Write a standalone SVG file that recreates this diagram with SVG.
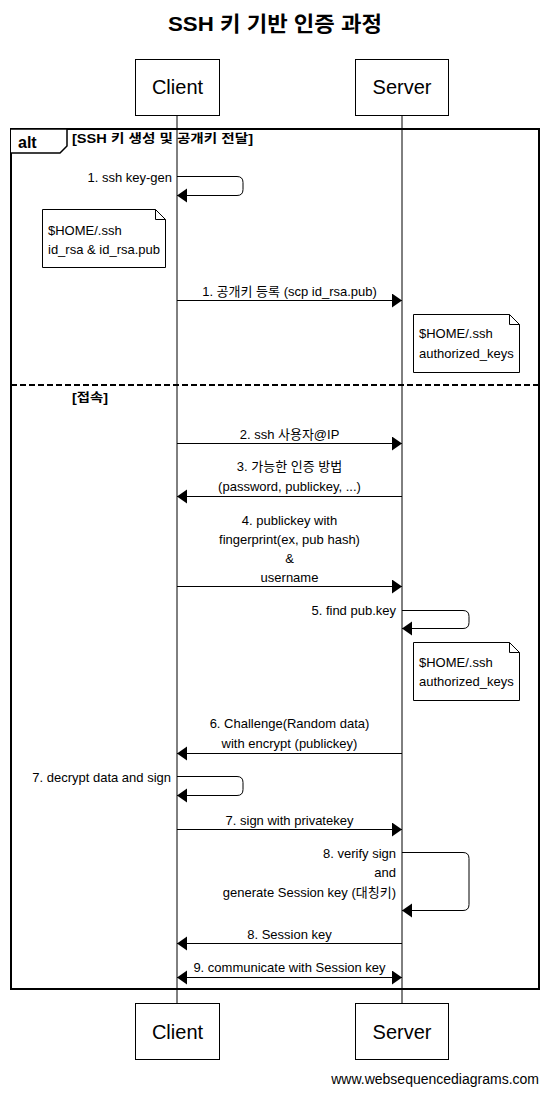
<svg xmlns="http://www.w3.org/2000/svg" width="549" height="1094" viewBox="0 0 549 1094">
<style>
.t{font-family:"Liberation Sans","Noto Sans CJK KR",Arial,sans-serif;fill:#000}
.m{font-size:13px}
.mc{font-size:13px;text-anchor:middle}
.mr{font-size:13px;text-anchor:end}
.actor{fill:#fff;stroke:#000;stroke-width:1}
.al{font-size:20px;text-anchor:middle}
.life{stroke:#000;stroke-width:1}
.msg{fill:none;stroke:#000;stroke-width:1;marker-end:url(#ah)}
.note{fill:#fff;stroke:#000;stroke-width:1}
.b{font-weight:bold}
</style>
<defs>
<marker id="ah" markerUnits="userSpaceOnUse" markerWidth="11" markerHeight="16" refX="10" refY="7" orient="auto-start-reverse">
<path d="M0,0 L10,7 L0,14 z" fill="#000"/>
</marker>
</defs>
<rect width="549" height="1094" fill="#fff"/>
<text class="t b" x="168" y="31" font-size="21" textLength="214" lengthAdjust="spacingAndGlyphs">SSH 키 기반 인증 과정</text>

<g id="lifelines">
<line class="life" x1="177" y1="115" x2="177" y2="1004"/>
<line class="life" x1="402" y1="115" x2="402" y2="1004"/>
</g>

<g id="client-top"><rect class="actor" x="135.5" y="59.5" width="84" height="56"/><text class="t al" x="177.5" y="94">Client</text></g>
<g id="server-top"><rect class="actor" x="355.5" y="59.5" width="93" height="56"/><text class="t al" x="402" y="94">Server</text></g>
<g id="client-bottom"><rect class="actor" x="135.5" y="1003.5" width="84" height="56"/><text class="t al" x="177.5" y="1039">Client</text></g>
<g id="server-bottom"><rect class="actor" x="355.5" y="1003.5" width="93" height="56"/><text class="t al" x="402" y="1039">Server</text></g>

<g id="frame">
<rect x="11" y="129" width="528" height="860" fill="none" stroke="#000" stroke-width="2"/>
<path d="M11,129 H67 V146 L60,153 H11" fill="#fff" stroke="#000" stroke-width="1.5"/>
<text class="t b" x="18" y="148" font-size="16">alt</text>
<text class="t b" x="72" y="143" font-size="12" textLength="181" lengthAdjust="spacingAndGlyphs">[SSH 키 생성 및 공개키 전달]</text>
<line x1="11" y1="385" x2="539" y2="385" stroke="#000" stroke-width="2" stroke-dasharray="6,3"/>
<text class="t b" x="72" y="402" font-size="12" textLength="36" lengthAdjust="spacingAndGlyphs">[접속]</text>
</g>

<g id="note-client-keys">
<path class="note" d="M42.5,209.5 H155.5 L165.5,219.5 V267.5 H42.5 Z"/>
<path d="M155.5,209.5 V219.5 H165.5" fill="none" stroke="#000"/>
<text class="t m" x="48" y="235">$HOME/.ssh</text>
<text class="t m" x="48" y="254">id_rsa &amp; id_rsa.pub</text>
</g>
<g id="note-server-keys-1">
<path class="note" d="M413.5,314.5 H509.5 L519.5,324.5 V372.5 H413.5 Z"/>
<path d="M509.5,314.5 V324.5 H519.5" fill="none" stroke="#000"/>
<text class="t m" x="419" y="338">$HOME/.ssh</text>
<text class="t m" x="419" y="358">authorized_keys</text>
</g>
<g id="note-server-keys-2">
<path class="note" d="M413.5,642.5 H509.5 L519.5,652.5 V700.5 H413.5 Z"/>
<path d="M509.5,642.5 V652.5 H519.5" fill="none" stroke="#000"/>
<text class="t m" x="419" y="667">$HOME/.ssh</text>
<text class="t m" x="419" y="686">authorized_keys</text>
</g>

<g id="connectors">
<path class="msg" d="M177,176.5 H237 Q243,176.5 243,182.5 V189.5 Q243,195.5 237,195.5 H177"/>
<text class="t mr" x="172" y="182">1. ssh key-gen</text>

<path class="msg" d="M177,300.5 H402"/>
<text class="t mc" x="289.5" y="296">1. 공개키 등록 (scp id_rsa.pub)</text>

<path class="msg" d="M177,443.5 H402"/>
<text class="t mc" x="289.5" y="439">2. ssh 사용자@IP</text>

<path class="msg" d="M402,496.5 H177"/>
<text class="t mc" x="289.5" y="471">3. 가능한 인증 방법</text>
<text class="t mc" x="289.5" y="491">(password, publickey, ...)</text>

<path class="msg" d="M177,586.5 H402"/>
<text class="t mc" x="289.5" y="525">4. publickey with</text>
<text class="t mc" x="289.5" y="544">fingerprint(ex, pub hash)</text>
<text class="t mc" x="289.5" y="563">&amp;</text>
<text class="t mc" x="289.5" y="582">username</text>

<path class="msg" d="M402,610.5 H463 Q469,610.5 469,616.5 V622.5 Q469,628.5 463,628.5 H402"/>
<text class="t mr" x="396" y="615">5. find pub.key</text>

<path class="msg" d="M402,753.5 H177"/>
<text class="t mc" x="289.5" y="728">6. Challenge(Random data)</text>
<text class="t mc" x="289.5" y="748">with encrypt (publickey)</text>

<path class="msg" d="M177,776.5 H237 Q243,776.5 243,782.5 V789.5 Q243,795.5 237,795.5 H177"/>
<text class="t mr" x="171" y="782">7. decrypt data and sign</text>

<path class="msg" d="M177,829.5 H402"/>
<text class="t mc" x="289.5" y="825">7. sign with privatekey</text>

<path class="msg" d="M402,852.5 H463 Q469,852.5 469,858.5 V904.5 Q469,910.5 463,910.5 H402"/>
<text class="t mr" x="396" y="858">8. verify sign</text>
<text class="t mr" x="396" y="877">and</text>
<text class="t mr" x="396" y="897">generate Session key (대칭키)</text>

<path class="msg" d="M402,943.5 H177"/>
<text class="t mc" x="289.5" y="939">8. Session key</text>

<path class="msg" d="M177,977.5 H402" style="marker-start:url(#ah)"/>
<text class="t mc" x="289.5" y="972">9. communicate with Session key</text>
</g>

<text class="t" x="539" y="1084" font-size="14" text-anchor="end">www.websequencediagrams.com</text>
</svg>
